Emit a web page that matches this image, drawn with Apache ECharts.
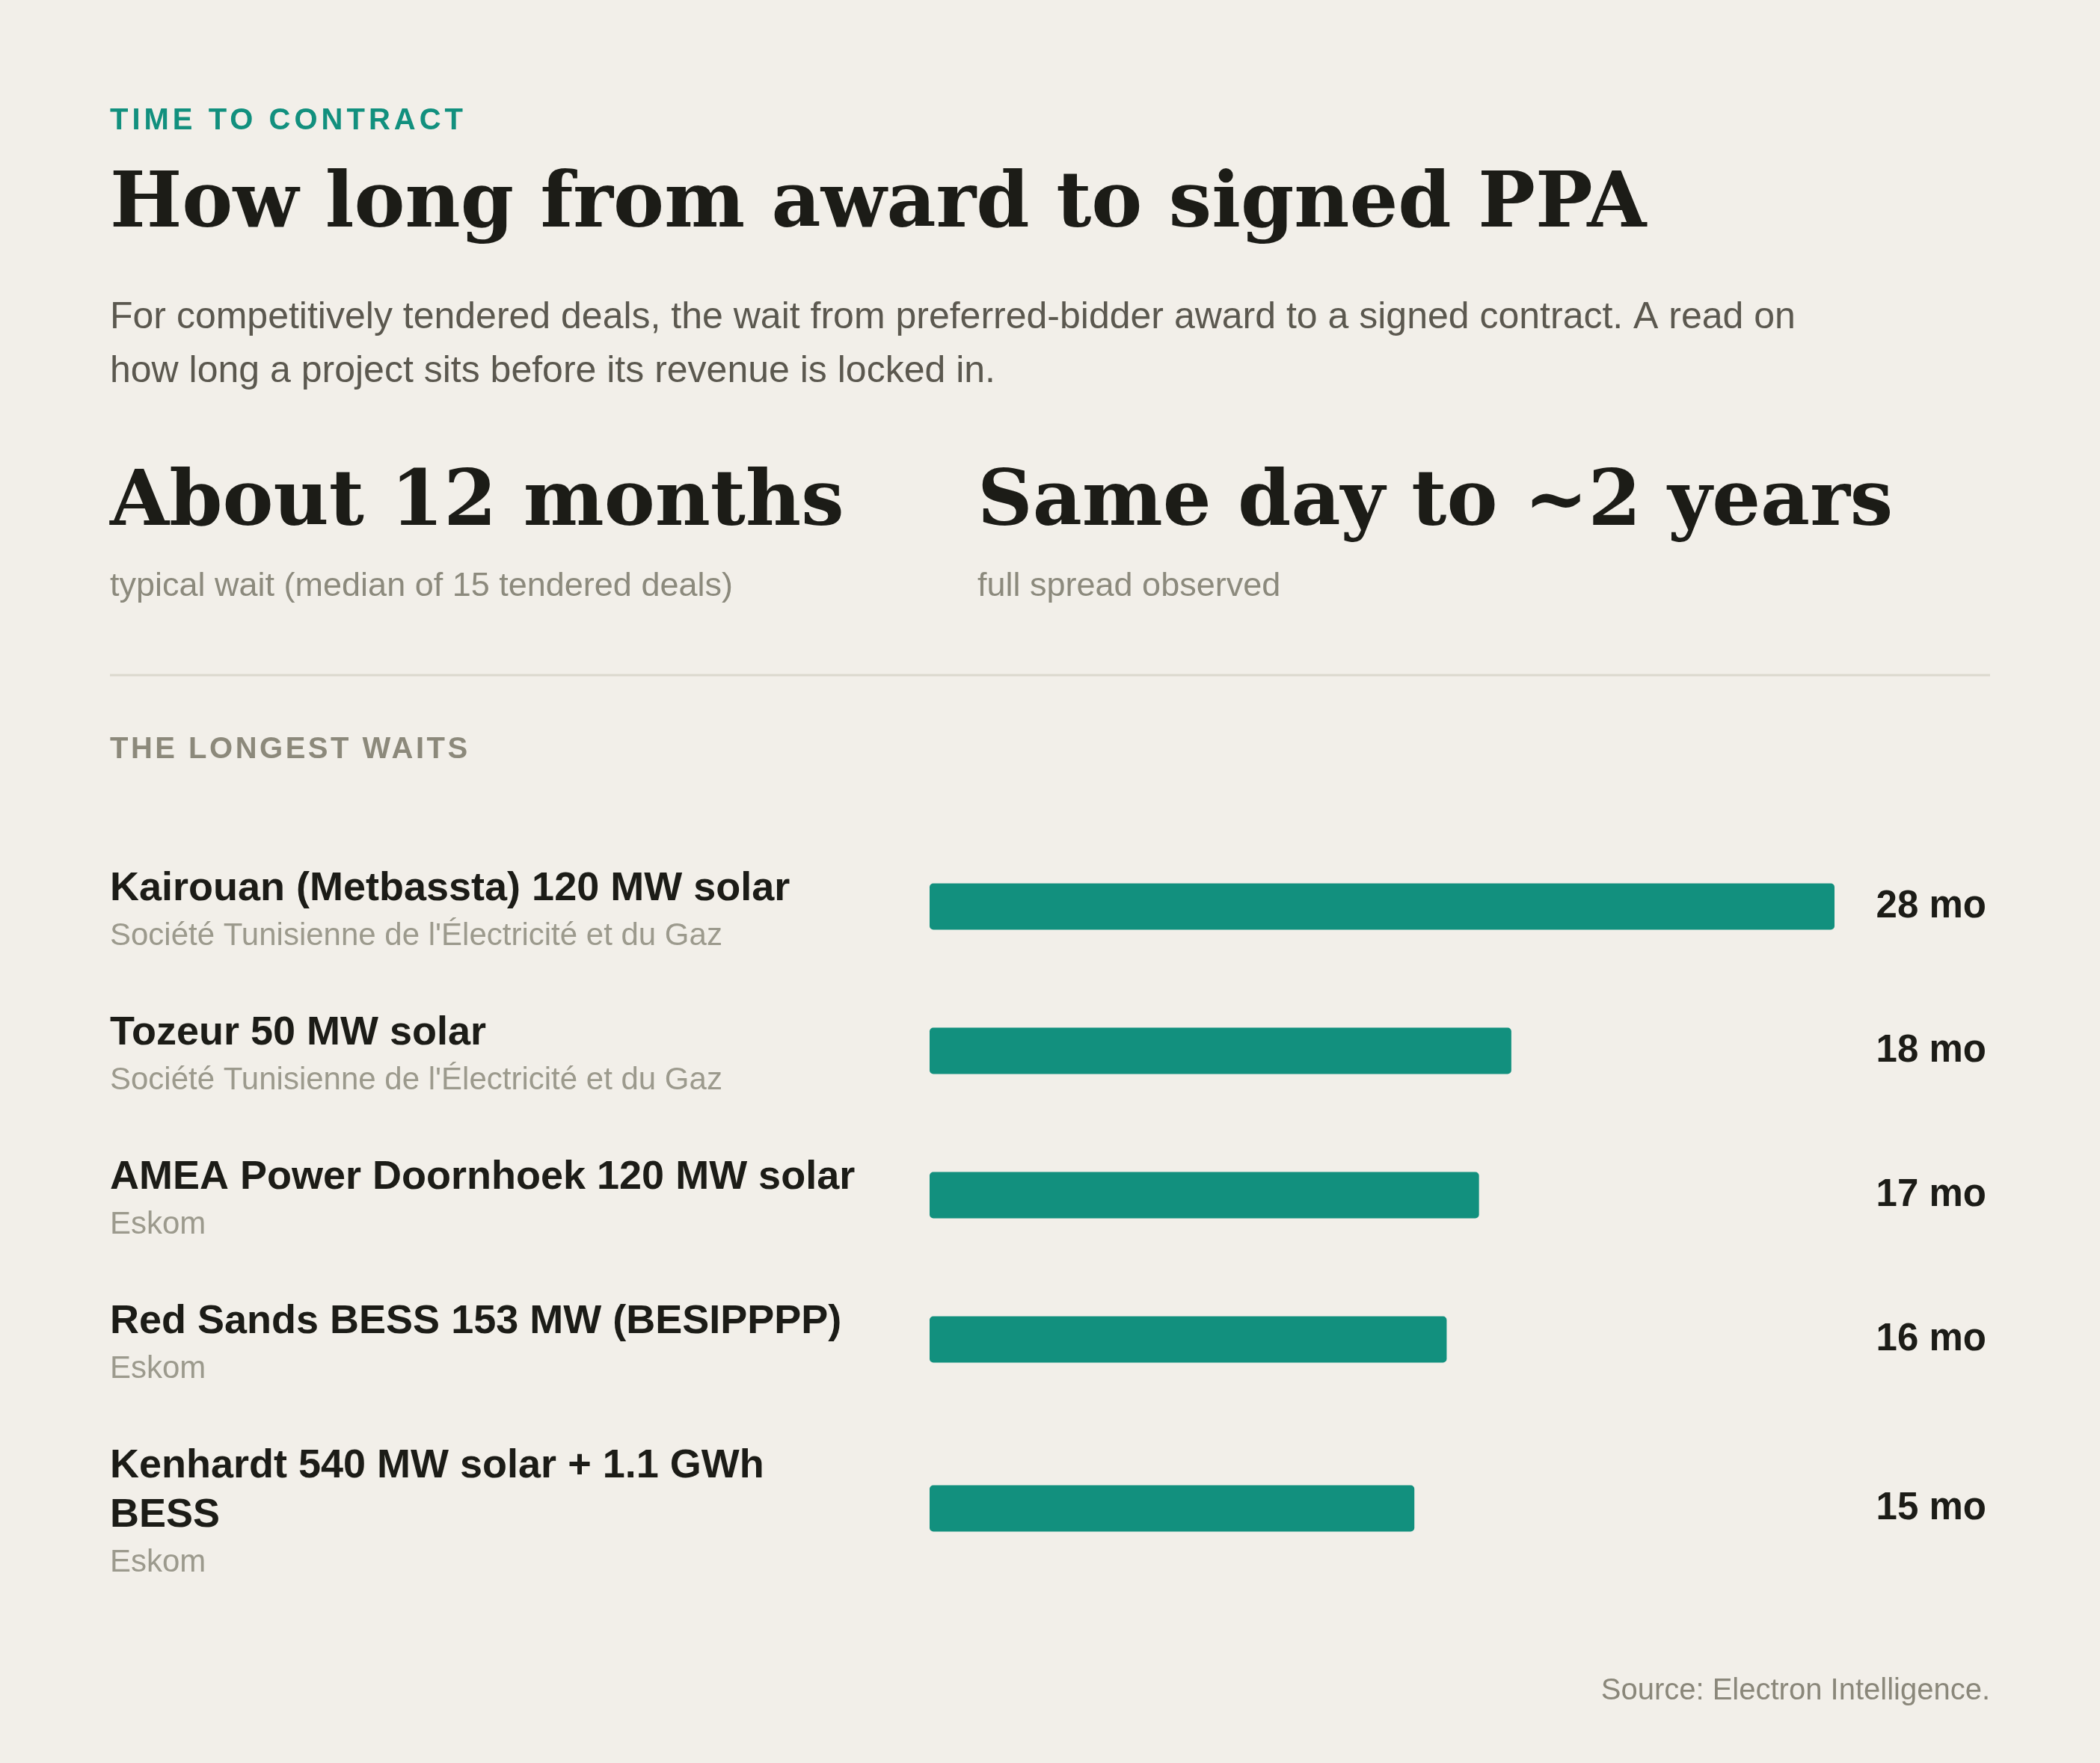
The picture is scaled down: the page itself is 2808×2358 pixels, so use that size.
<!DOCTYPE html>
<html>
<head>
<meta charset="utf-8">
<script src="https://cdn.jsdelivr.net/npm/echarts@6/dist/echarts.min.js"></script>
<style>
  html, body { margin: 0; padding: 0; background: #f2efe9; }
  #chart { width: 2808px; height: 2358px; }
</style>
</head>
<body>
<div id="chart"></div>
<script>
// rows of the "longest waits" list
const projects = [
  'Kairouan (Metbassta) 120 MW solar',
  'Tozeur 50 MW solar',
  'AMEA Power Doornhoek 120 MW solar',
  'Red Sands BESS 153 MW (BESIPPPP)',
  'Kenhardt 540 MW solar + 1.1 GWh BESS',
];
const buyers = [
  "Société Tunisienne de l'Électricité et du Gaz",
  "Société Tunisienne de l'Électricité et du Gaz",
  'Eskom',
  'Eskom',
  'Eskom',
];
const months = [28, 18, 17, 16, 15];

// headline stats
const statValues = ['About 12 months', 'Same day to ~2 years'];
const statNotes = ['typical wait (median of 15 tendered deals)', 'full spread observed'];

const SANS = '"Liberation Sans", Arial, sans-serif';
const SERIF = '"DejaVu Serif", serif';
// family list used only by the spaced-out small caps labels
const SPACED = 'Arimo, "Liberation Sans", Arial, sans-serif';
const TEAL = '#12907e';
const INK = '#1c1c17';
const KICKER = '#8c897b';

// canvas has letterSpacing but zrender never sets it, so add it for the spaced labels
const baseFillText = CanvasRenderingContext2D.prototype.fillText;
CanvasRenderingContext2D.prototype.fillText = function (text, x, y, maxW) {
  if (/Arimo/.test(this.font)) {
    this.letterSpacing = this.fillStyle === TEAL ? '5px' : '3.5px';
    baseFillText.call(this, text, x, y);
    this.letterSpacing = '0px';
    return;
  }
  return maxW === undefined ? baseFillText.call(this, text, x, y) : baseFillText.call(this, text, x, y, maxW);
};

const LEFT = 147;
const RIGHT = 2661;
const BAR_LEFT = 1243;
const BAR_W = 1210;
const WRAP = 1015;
const ROW_H = 193;
const LINE_H = 66;
const BAR_H = 62;

// break text into lines no wider than maxW
const measure = document.createElement('canvas').getContext('2d');
function wrap(text, font, maxW) {
  measure.font = font;
  const lines = [];
  let line = '';
  text.split(' ').forEach((w) => {
    const next = line ? line + ' ' + w : w;
    if (line && measure.measureText(next).width > maxW) {
      lines.push(line);
      line = w;
    } else {
      line = next;
    }
  });
  lines.push(line);
  return lines;
}

const grids = [];
const xAxes = [];
const yAxes = [];
const series = [];
let rowTop = 1116;
projects.forEach((name, i) => {
  const nameLines = wrap(name, 'bold 54px ' + SANS, WRAP);
  const h = ROW_H + (nameLines.length - 1) * LINE_H;
  grids.push({ left: BAR_LEFT, width: BAR_W, top: rowTop + (h - BAR_H) / 2, height: BAR_H });
  rowTop += h;

  xAxes.push({ gridIndex: i, type: 'value', min: 0, max: Math.max(...months), show: false });
  yAxes.push({
    gridIndex: i,
    type: 'category',
    data: [name],
    axisLine: { show: false },
    axisTick: { show: false },
    axisLabel: {
      margin: BAR_LEFT - LEFT,
      align: 'left',
      verticalAlign: 'middle',
      padding: [14, 0, 0, 0],
      formatter: () => `{t|${nameLines.join('\n')}}\n{s|${buyers[i]}}`,
      rich: {
        t: { fontFamily: SANS, fontSize: 54, fontWeight: 'bold', color: INK, lineHeight: LINE_H },
        s: { fontFamily: SANS, fontSize: 42, color: '#9c9a8d', lineHeight: 60 },
      },
    },
  });
  yAxes.push({
    gridIndex: i,
    type: 'category',
    position: 'right',
    data: [months[i]],
    axisLine: { show: false },
    axisTick: { show: false },
    axisLabel: {
      margin: 2656 - BAR_LEFT - BAR_W,
      align: 'right',
      verticalAlign: 'middle',
      padding: [6, 0, 0, 0],
      formatter: '{value} mo',
      fontFamily: SANS,
      fontSize: 51,
      fontWeight: 'bold',
      color: INK,
    },
  });
  series.push({
    type: 'bar',
    xAxisIndex: i,
    yAxisIndex: i * 2,
    data: [months[i]],
    barWidth: BAR_H,
    silent: true,
    itemStyle: { color: TEAL, borderRadius: 5 },
  });
});

const intro = 'For competitively tendered deals, the wait from preferred-bidder award to a signed contract. A read on how long a project sits before its revenue is locked in.';

const myChart = echarts.init(document.getElementById('chart'));

const option = {
  backgroundColor: '#f2efe9',
  animation: false,
  grid: grids,
  xAxis: xAxes,
  yAxis: yAxes,
  series,
  graphic: [
    {
      type: 'text', x: LEFT, y: 162,
      style: { text: 'TIME TO CONTRACT', font: 'bold 40px ' + SPACED, fill: TEAL, verticalAlign: 'middle' },
    },
    {
      type: 'text', x: LEFT, y: 276,
      style: {
        text: 'How long from award to signed PPA',
        fontFamily: SERIF, fontSize: 102, fontWeight: 'bold', fill: INK, verticalAlign: 'middle',
      },
    },
    {
      type: 'text', x: LEFT, y: 389,
      style: {
        text: wrap(intro, '50px ' + SANS, 2300).join('\n'),
        fontFamily: SANS, fontSize: 50, fill: '#5b584f', lineHeight: 72, verticalAlign: 'top',
      },
    },
    {
      type: 'text', x: LEFT, y: 675,
      style: { text: statValues[0], fontFamily: SERIF, fontSize: 102, fontWeight: 'bold', fill: INK, verticalAlign: 'middle' },
    },
    {
      type: 'text', x: 1307, y: 675,
      style: { text: statValues[1], fontFamily: SERIF, fontSize: 102, fontWeight: 'bold', fill: INK, verticalAlign: 'middle' },
    },
    {
      type: 'text', x: LEFT, y: 785,
      style: { text: statNotes[0], fontFamily: SANS, fontSize: 45, fill: '#8c8a7d', verticalAlign: 'middle' },
    },
    {
      type: 'text', x: 1307, y: 785,
      style: { text: statNotes[1], fontFamily: SANS, fontSize: 45, fill: '#8c8a7d', verticalAlign: 'middle' },
    },
    {
      type: 'line',
      shape: { x1: LEFT, y1: 903, x2: RIGHT, y2: 903 },
      style: { stroke: '#dbd8ce', lineWidth: 3 },
    },
    {
      type: 'text', x: LEFT, y: 1003,
      style: { text: 'THE LONGEST WAITS', font: 'bold 40px ' + SPACED, fill: KICKER, verticalAlign: 'middle' },
    },
    {
      type: 'text', x: RIGHT, y: 2262,
      style: { text: 'Source: Electron Intelligence.', fontFamily: SANS, fontSize: 40, fill: '#8a877a', align: 'right', verticalAlign: 'middle' },
    },
  ],
};

option && myChart.setOption(option);
</script>
</body>
</html>
